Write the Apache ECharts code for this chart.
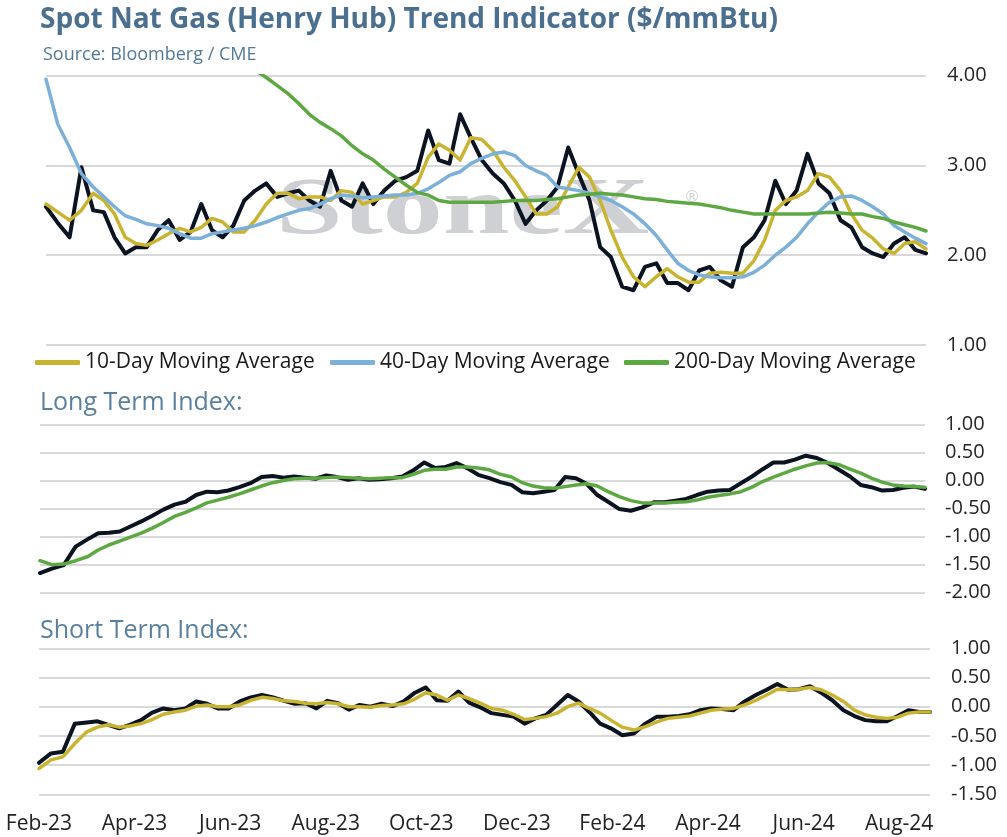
<!DOCTYPE html>
<html>
<head>
<meta charset="utf-8">
<script src="https://cdn.jsdelivr.net/npm/echarts@6/dist/echarts.min.js"></script>
<style>
html,body{margin:0;padding:0;background:#fff;}
#chart{width:1007px;height:837px;}
</style>
</head>
<body>
<div id="chart"></div>
<script>
// ---- DATA (weekly samples) ----
const startDate = '2023-02-01';
const weekCount = 82;

const spotPrice = [
  2.54, 2.36, 2.20, 2.98, 2.50, 2.48, 2.20, 2.02, 2.09, 2.09,
  2.28, 2.39, 2.17, 2.26, 2.57, 2.28, 2.20, 2.33, 2.61, 2.72,
  2.80, 2.65, 2.69, 2.72, 2.61, 2.54, 2.94, 2.61, 2.54, 2.80,
  2.57, 2.72, 2.83, 2.87, 2.94, 3.39, 3.06, 3.02, 3.57, 3.31,
  3.06, 2.91, 2.80, 2.61, 2.35, 2.50, 2.61, 2.76, 3.20, 2.90,
  2.61, 2.09, 1.98, 1.65, 1.61, 1.87, 1.91, 1.69, 1.69, 1.61,
  1.83, 1.87, 1.72, 1.65, 2.09, 2.20, 2.39, 2.83, 2.57, 2.72,
  3.13, 2.80, 2.69, 2.39, 2.31, 2.09, 2.02, 1.98, 2.13, 2.20,
  2.06, 2.02
];
const ma10 = [
  2.57, 2.48, 2.39, 2.50, 2.69, 2.61, 2.46, 2.20, 2.13, 2.11,
  2.17, 2.24, 2.30, 2.26, 2.31, 2.41, 2.37, 2.26, 2.26, 2.39,
  2.57, 2.69, 2.69, 2.63, 2.65, 2.65, 2.61, 2.72, 2.70, 2.57,
  2.61, 2.65, 2.65, 2.70, 2.80, 3.09, 3.24, 3.17, 3.06, 3.31,
  3.29, 3.17, 2.98, 2.83, 2.65, 2.46, 2.46, 2.54, 2.76, 2.98,
  2.87, 2.61, 2.28, 1.98, 1.76, 1.65, 1.76, 1.85, 1.76, 1.70,
  1.70, 1.80, 1.81, 1.80, 1.80, 1.94, 2.17, 2.50, 2.61, 2.65,
  2.72, 2.91, 2.87, 2.72, 2.46, 2.28, 2.19, 2.07, 2.02, 2.13,
  2.15, 2.07
];
const ma40 = [
  3.96, 3.46, 3.20, 2.91, 2.76, 2.65, 2.54, 2.44, 2.40, 2.35,
  2.33, 2.30, 2.24, 2.19, 2.19, 2.24, 2.26, 2.28, 2.30, 2.33,
  2.37, 2.42, 2.46, 2.50, 2.52, 2.57, 2.63, 2.67, 2.66, 2.64,
  2.65, 2.66, 2.67, 2.67, 2.69, 2.74, 2.81, 2.89, 2.93, 3.02,
  3.08, 3.13, 3.15, 3.11, 3.00, 2.94, 2.89, 2.76, 2.74, 2.72,
  2.69, 2.65, 2.61, 2.54, 2.46, 2.35, 2.22, 2.06, 1.91, 1.83,
  1.78, 1.76, 1.75, 1.75, 1.76, 1.81, 1.89, 2.00, 2.09, 2.20,
  2.35, 2.48, 2.59, 2.65, 2.66, 2.61, 2.54, 2.46, 2.33, 2.26,
  2.19, 2.13
];
const ma200 = [
  null, null, null, null, null, null, null, null, null, null,
  null, null, null, null, null, null, 4.30, 4.22, 4.14, 4.06,
  3.98, 3.89, 3.80, 3.69, 3.57, 3.48, 3.41, 3.33, 3.22, 3.13,
  3.06, 2.96, 2.87, 2.78, 2.70, 2.67, 2.61, 2.59, 2.59, 2.59,
  2.59, 2.59, 2.60, 2.61, 2.61, 2.61, 2.62, 2.63, 2.65, 2.67,
  2.68, 2.69, 2.68, 2.67, 2.65, 2.63, 2.62, 2.60, 2.59, 2.58,
  2.57, 2.55, 2.53, 2.50, 2.48, 2.46, 2.46, 2.46, 2.46, 2.46,
  2.46, 2.47, 2.48, 2.47, 2.46, 2.46, 2.43, 2.41, 2.37, 2.34,
  2.31, 2.27
];
const longTermIndex = [
  -1.65, -1.57, -1.51, -1.18, -1.05, -0.94, -0.93, -0.91, -0.82, -0.73,
  -0.63, -0.52, -0.43, -0.38, -0.26, -0.20, -0.21, -0.18, -0.12, -0.05,
  0.06, 0.08, 0.05, 0.07, 0.05, 0.03, 0.09, 0.06, 0.01, 0.04,
  0.01, 0.02, 0.04, 0.07, 0.18, 0.32, 0.22, 0.24, 0.31, 0.22,
  0.10, 0.04, -0.03, -0.08, -0.21, -0.23, -0.20, -0.17, 0.06, 0.04,
  -0.06, -0.26, -0.38, -0.51, -0.54, -0.48, -0.39, -0.39, -0.36, -0.33,
  -0.26, -0.20, -0.18, -0.17, -0.05, 0.07, 0.20, 0.32, 0.32, 0.37,
  0.44, 0.40, 0.31, 0.19, 0.07, -0.08, -0.12, -0.18, -0.17, -0.13,
  -0.11, -0.15
];
const longTermSignal = [
  -1.43, -1.50, -1.49, -1.43, -1.36, -1.24, -1.15, -1.08, -1.01, -0.94,
  -0.85, -0.75, -0.64, -0.57, -0.49, -0.40, -0.35, -0.30, -0.24, -0.17,
  -0.10, -0.04, 0.00, 0.03, 0.04, 0.04, 0.05, 0.06, 0.05, 0.04,
  0.03, 0.04, 0.05, 0.05, 0.11, 0.18, 0.20, 0.20, 0.24, 0.24,
  0.22, 0.19, 0.11, 0.06, -0.04, -0.10, -0.13, -0.14, -0.11, -0.08,
  -0.06, -0.10, -0.20, -0.29, -0.36, -0.40, -0.40, -0.40, -0.39, -0.38,
  -0.35, -0.30, -0.27, -0.24, -0.20, -0.12, -0.02, 0.06, 0.13, 0.20,
  0.26, 0.31, 0.32, 0.28, 0.20, 0.13, 0.04, -0.03, -0.08, -0.10,
  -0.11, -0.12
];
const shortTermIndex = [
  -0.96, -0.80, -0.77, -0.29, -0.27, -0.25, -0.31, -0.37, -0.31, -0.23,
  -0.10, -0.03, -0.06, -0.03, 0.09, 0.05, -0.03, -0.03, 0.09, 0.16,
  0.20, 0.16, 0.10, 0.05, 0.06, -0.03, 0.10, 0.06, -0.05, 0.03,
  0.00, 0.05, 0.01, 0.09, 0.24, 0.33, 0.11, 0.10, 0.26, 0.07,
  -0.01, -0.11, -0.14, -0.17, -0.29, -0.20, -0.14, 0.03, 0.20, 0.09,
  -0.09, -0.29, -0.37, -0.49, -0.46, -0.29, -0.17, -0.17, -0.16, -0.13,
  -0.06, -0.03, -0.04, -0.06, 0.09, 0.20, 0.29, 0.39, 0.29, 0.30,
  0.35, 0.24, 0.11, -0.06, -0.16, -0.23, -0.25, -0.25, -0.16, -0.06,
  -0.09, -0.09
];
const shortTermSignal = [
  -1.06, -0.91, -0.86, -0.63, -0.43, -0.35, -0.31, -0.35, -0.33, -0.29,
  -0.22, -0.13, -0.09, -0.06, 0.01, 0.03, 0.00, 0.00, 0.03, 0.11,
  0.16, 0.14, 0.10, 0.09, 0.06, 0.05, 0.07, 0.05, 0.00, 0.00,
  -0.01, 0.02, 0.03, 0.05, 0.13, 0.24, 0.20, 0.11, 0.20, 0.14,
  0.06, -0.03, -0.06, -0.13, -0.22, -0.20, -0.17, -0.11, 0.00, 0.06,
  -0.03, -0.11, -0.23, -0.35, -0.40, -0.34, -0.26, -0.20, -0.18, -0.16,
  -0.11, -0.06, -0.04, -0.03, 0.03, 0.11, 0.20, 0.30, 0.29, 0.30,
  0.33, 0.29, 0.20, 0.09, -0.06, -0.14, -0.18, -0.20, -0.18, -0.11,
  -0.09, -0.09
];
const monthNames = ['Jan','Feb','Mar','Apr','May','Jun','Jul','Aug','Sep','Oct','Nov','Dec'];

// ---- weekly dates ----
const dates = [];
(function(){
  const d0 = new Date(startDate + 'T00:00:00Z');
  for (let i = 0; i < weekCount; i++) {
    const d = new Date(d0.getTime() + i * 7 * 86400000);
    dates.push(d.toISOString().slice(0, 10));
  }
})();
// fractional months since Feb 2023
function monthPos(s) {
  const y = +s.slice(0,4), m = +s.slice(5,7), d = +s.slice(8,10);
  const dim = new Date(Date.UTC(y, m, 0)).getUTCDate();
  return (y - 2023) * 12 + (m - 2) + (d - 1) / dim;
}
const xs = dates.map(monthPos);
const xMax = xs[xs.length - 1];
const pairs = arr => arr.map((v, i) => [xs[i], v]);
function monthLabel(v) {
  if (Math.abs(v - Math.round(v)) > 1e-6) return '';
  const k = Math.round(v);
  if (k % 2 !== 0) return '';
  const mi = (1 + k) % 12;
  const yr = 23 + Math.floor((1 + k) / 12);
  return monthNames[mi] + '-' + yr;
}

const C_BLACK = '#0b1220', C_GOLD = '#c8b431', C_BLUE = '#7cb0d8', C_GREEN = '#5ea843';
const FONT = 'Open Sans';
const gridLine = { show: true, lineStyle: { color: '#d9d9d9', width: 2 } };

function xAxis(idx, showLabels) {
  return {
    type: 'value', gridIndex: idx, min: 0, max: xMax, interval: 2,
    axisLine: { show: false }, axisTick: { show: false }, splitLine: { show: false },
    axisLabel: {
      show: showLabels, formatter: monthLabel, margin: 19,
      fontFamily: FONT, fontSize: 21, color: '#222', showMinLabel: true, showMaxLabel: true
    }
  };
}
function yAxis(idx, min, max, interval, margin) {
  return {
    type: 'value', gridIndex: idx, position: 'right', min: min, max: max, interval: interval,
    axisLine: { show: false }, axisTick: { show: false }, splitLine: gridLine,
    axisLabel: {
      formatter: v => v.toFixed(2), margin: margin,
      fontFamily: FONT, fontSize: 20, color: '#262626'
    }
  };
}
function line(name, data, xi, color, width, z) {
  return {
    name: name, type: 'line', xAxisIndex: xi, yAxisIndex: xi, data: pairs(data),
    showSymbol: false, symbol: 'none', connectNulls: false, clip: true, z: z,
    lineStyle: { color: color, width: width, join: 'round', cap: 'round' },
    itemStyle: { color: color }, silent: true
  };
}
function legend(name, left) {
  return {
    data: [name], left: left, top: 352, padding: 0, icon: 'roundRect',
    itemWidth: 45, itemHeight: 5, selectedMode: false,
    textStyle: { fontFamily: FONT, fontSize: 21, color: '#1a1a1a' }
  };
}

// watermark (decorative logo text)
const wmGraphics = [
  { type: 'text', x: 276, y: 172, scaleX: 1.5, z: 0, silent: true,
    style: { text: 'StoneX', fontFamily: 'Liberation Serif', fontWeight: 'bold', fontSize: 80, fill: '#cfd0d4' } },
  { type: 'text', x: 684, y: 190, z: 0, silent: true,
    style: { text: '\u00AE', fontFamily: 'DejaVu Sans', fontSize: 16, fill: '#cfd0d4' } }
];

const chart = echarts.init(document.getElementById('chart'), null, { renderer: 'canvas' });
chart.setOption({
  animation: false,
  backgroundColor: '#ffffff',
  title: [
    { text: 'Spot Nat Gas (Henry Hub) Trend Indicator ($/mmBtu)', left: 40, top: 6, padding: 0,
      textStyle: { fontFamily: FONT, fontWeight: 'bold', fontSize: 28, color: '#4b6f8e' } },
    { text: 'Source: Bloomberg / CME', left: 43, top: 46, padding: 0,
      textStyle: { fontFamily: FONT, fontWeight: 'normal', fontSize: 18, color: '#52799a' } },
    { text: 'Long Term Index:', left: 40, top: 390, padding: 0,
      textStyle: { fontFamily: FONT, fontWeight: 'normal', fontSize: 25, color: '#5a80a0' } },
    { text: 'Short Term Index:', left: 40, top: 618, padding: 0,
      textStyle: { fontFamily: FONT, fontWeight: 'normal', fontSize: 25, color: '#5a80a0' } }
  ],
  graphic: wmGraphics,
  legend: [
    legend('10-Day Moving Average', 35),
    legend('40-Day Moving Average', 330),
    legend('200-Day Moving Average', 624)
  ],
  grid: [
    { left: 46, right: 81, top: 75.7, height: 269.3 },
    { left: 40, right: 82, top: 424.3, height: 168.4 },
    { left: 39, right: 77, top: 648.3, height: 146 }
  ],
  xAxis: [xAxis(0, false), xAxis(1, false), xAxis(2, true)],
  yAxis: [yAxis(0, 1, 4, 1, 21), yAxis(1, -2, 1, 0.5, 20), yAxis(2, -1.5, 1, 0.5, 21)],
  series: [
    line('Spot', spotPrice, 0, C_BLACK, 4, 2),
    line('10-Day Moving Average', ma10, 0, C_GOLD, 3.5, 3),
    line('40-Day Moving Average', ma40, 0, C_BLUE, 3.5, 4),
    line('200-Day Moving Average', ma200, 0, C_GREEN, 3.5, 5),
    line('Long Term Index', longTermIndex, 1, C_BLACK, 4, 2),
    line('Long Term Signal', longTermSignal, 1, C_GREEN, 3.5, 3),
    line('Short Term Index', shortTermIndex, 2, C_BLACK, 4, 2),
    line('Short Term Signal', shortTermSignal, 2, C_GOLD, 3.5, 3)
  ]
});
</script>
</body>
</html>
